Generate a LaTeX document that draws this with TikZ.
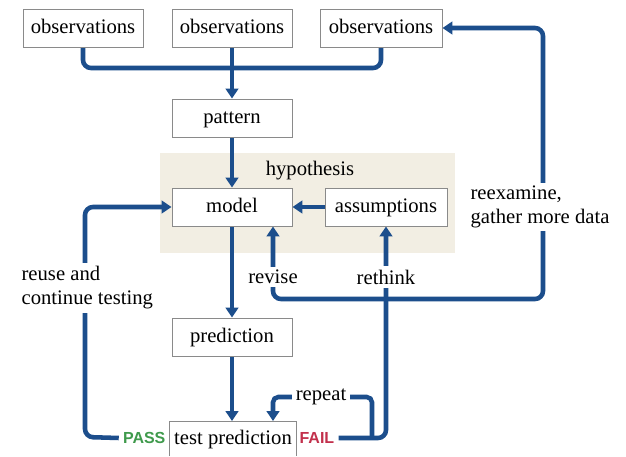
\documentclass[tikz,border=0pt]{standalone}
\usepackage{fontspec}
\setmainfont{Liberation Serif}
\newfontfamily\labsans{Liberation Sans}
\usetikzlibrary{arrows.meta,backgrounds}
\definecolor{flowc}{HTML}{1C4E8C}
\definecolor{beigec}{HTML}{F2EEE3}
\definecolor{passc}{HTML}{3F9A4C}
\definecolor{failc}{HTML}{C2304C}
\definecolor{boxc}{HTML}{8A8A8A}
\pgfdeclarelayer{bottom}
\pgfsetlayers{bottom,background,main}
\begin{document}
\begin{tikzpicture}[x=0.75pt,y=-0.75pt,
  txt/.style={font=\fontsize{15.5}{18}\selectfont},
  box/.style={txt,draw=boxc,line width=0.7pt,fill=white,minimum width=90pt,minimum height=28.5pt,inner sep=0pt,text height=9.5pt,text depth=2pt},
  lbl/.style={txt,fill=white,inner sep=2.5pt},
  flow/.style={draw=flowc,line width=3.4pt,rounded corners=6pt},
  arr/.style={flow,-{Triangle[length=7.5pt,width=9.5pt]}},
  res/.style={font=\labsans\bfseries\fontsize{12}{14}\selectfont,inner sep=1pt}]
\useasboundingbox (0,0) rectangle (626,457);
\begin{pgfonlayer}{bottom}
\fill[white] (0,0) rectangle (626,457);
\node[fill=beigec,minimum width=221pt,minimum height=75pt,inner sep=0pt] (hypbg) at (307.5,203) {};
\end{pgfonlayer}
% nodes
\node[box] (o1) at (83,28) {observations};
\node[box] (o2) at (232,28) {observations};
\node[box,minimum width=91.5pt] (o3) at (381,28) {observations};
\node[box] (pat) at (232,118) {pattern};
\node[txt] (hyp) at (310,171) {hypothesis};
\node[box] (mod) at (232,207) {model};
\node[box,minimum width=91.5pt] (ass) at (386,207) {assumptions};
\node[box] (pred) at (232,337) {prediction};
\node[fill=white,minimum width=94.5pt,minimum height=26pt,inner sep=0pt,anchor=north] (test) at (233,421) {};
\draw[boxc,line width=0.7pt] (test.south west) |- (test.north east) -- (test.south east);
\node[txt,inner sep=0pt,text height=9.5pt,text depth=2pt] (testtxt) at (233,439) {test prediction};
\node[res,text=passc,anchor=east] (pass) at (167,438) {PASS};
\node[res,text=failc,anchor=west] (fail) at (298,438) {FAIL};
\node[lbl] (repeat) at (321,397) {repeat};
\node[lbl] (revise) at (273,277) {revise};
\node[lbl] (rethink) at (386,277) {rethink};
\node[lbl,align=left,anchor=west] (reex) at (467,207) {reexamine,\\gather more data};
\node[lbl,align=left,anchor=west] (reuse) at (18,288) {reuse and\\continue testing};
\coordinate (j) at (232,68);
\coordinate (hb) at (386,299);
\coordinate (rx) at (543,299);
\coordinate (rp) at (372,437);
\coordinate (px) at (85,437);
% connectors
\begin{scope}[on background layer]
\draw[flow] (o1.south) |- (j) -| (o3.south);
\draw[arr] (o2.south) -- (pat.north);
\draw[arr] (pat.south) -- (mod.north);
\draw[arr] (ass.west) -- (mod.east);
\draw[arr] (mod.south) -- (pred.north);
\draw[arr] (pred.south) -- (pred.south |- test.north);
\draw[arr] ([xshift=-2pt]pass.west) -- (px) |- (mod.west);
\draw[arr] ([xshift=2pt]fail.east) -| (ass.south);
\draw[arr] (hb) -| (revise.center |- mod.south);
\draw[arr] (hb) -- (rx) |- (o3.east);
\draw[flow,rounded corners=4pt] (rp) |- (repeat.east);
\draw[arr,rounded corners=4pt] (repeat.west) -| (revise.center |- test.north);
\end{scope}
\end{tikzpicture}
\end{document}
